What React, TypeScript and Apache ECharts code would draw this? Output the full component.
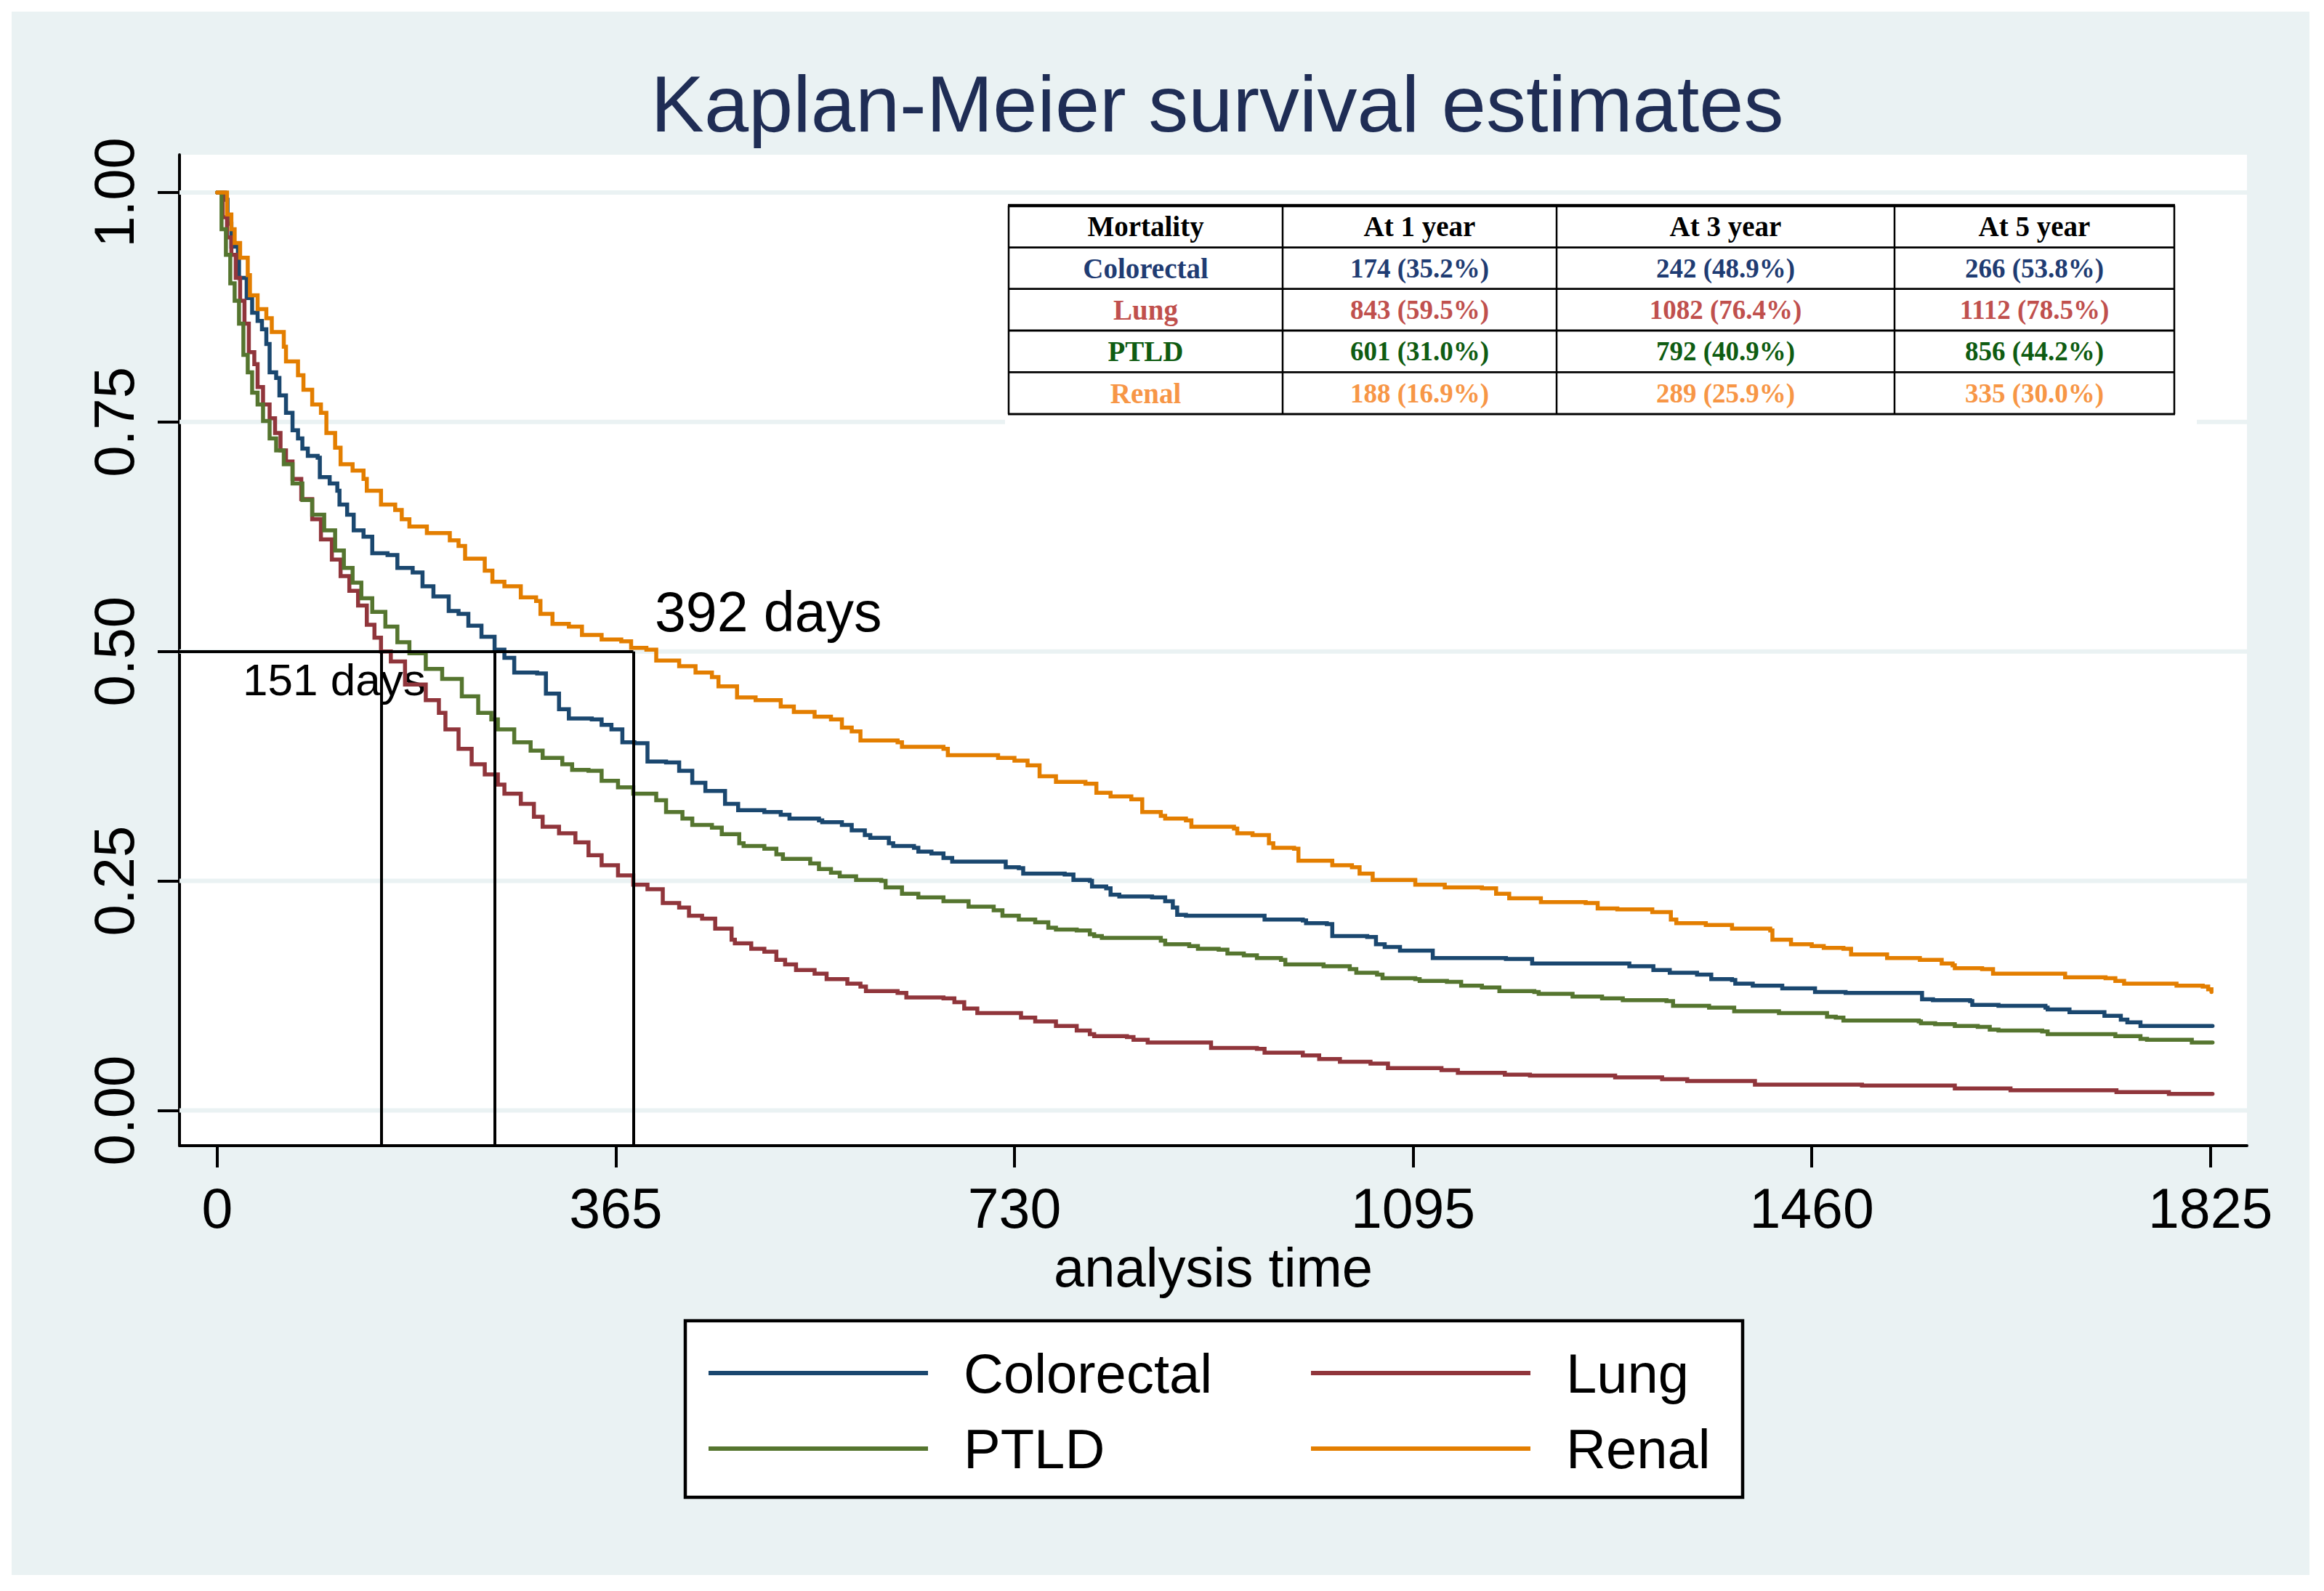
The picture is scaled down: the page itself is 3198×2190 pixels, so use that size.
import React, { useEffect, useRef } from 'react';
import * as echarts from 'echarts';

// ---------- data ----------
const seriesNames = ['Colorectal', 'Lung', 'PTLD', 'Renal'];
const seriesColors = ['#1A476F', '#90353B', '#55752F', '#E37E00'];

const colorectal: [number, number][] = [
  [0, 1], [3, 1], [7, 0.992], [9.5, 0.966], [13, 0.941], [19, 0.929], [20, 0.907], [27, 0.885], [32, 0.869], [37, 0.86],
  [41, 0.851], [45, 0.835], [48, 0.804], [54, 0.798], [57, 0.779], [63, 0.76], [69, 0.741], [74, 0.732], [78, 0.721], [83, 0.713],
  [92, 0.711], [94, 0.69], [103, 0.683], [110, 0.675], [112, 0.66], [119, 0.649], [125, 0.632], [134, 0.625], [142, 0.607], [156, 0.605],
  [165, 0.591], [179, 0.586], [188, 0.571], [198, 0.56], [212, 0.544], [221, 0.541], [230, 0.528], [242, 0.516], [254, 0.502], [263, 0.493],
  [272, 0.477], [293, 0.476], [301, 0.454], [313, 0.437], [322, 0.427], [343, 0.426], [352, 0.42], [361, 0.415], [371, 0.401], [382, 0.4],
  [394, 0.38], [411, 0.379], [423, 0.37], [435, 0.357], [447, 0.348], [465, 0.334], [477, 0.327], [501, 0.325], [516, 0.322], [524, 0.318],
  [551, 0.316], [554, 0.314], [572, 0.311], [581, 0.305], [593, 0.3], [598, 0.297], [615, 0.291], [619, 0.288], [638, 0.286], [642, 0.282],
  [654, 0.28], [665, 0.275], [673, 0.271], [722, 0.265], [734, 0.264], [738, 0.258], [776, 0.257], [784, 0.251], [799, 0.25], [801, 0.244],
  [814, 0.242], [818, 0.235], [826, 0.233], [856, 0.232], [868, 0.228], [875, 0.221], [879, 0.213], [887, 0.212], [959, 0.208], [994, 0.207],
  [997, 0.204], [1016, 0.203], [1021, 0.19], [1053, 0.189], [1061, 0.181], [1069, 0.178], [1083, 0.174], [1113, 0.166], [1180, 0.165], [1204, 0.16],
  [1293, 0.157], [1315, 0.153], [1330, 0.15], [1355, 0.148], [1368, 0.143], [1387, 0.142], [1390, 0.138], [1406, 0.136], [1433, 0.133], [1463, 0.129],
  [1491, 0.128], [1561, 0.121], [1571, 0.12], [1605, 0.119], [1607, 0.115], [1631, 0.114], [1674, 0.112], [1676, 0.11], [1696, 0.107], [1728, 0.103],
  [1743, 0.099], [1749, 0.096], [1761, 0.092], [1827, 0.092],
];

const lung: [number, number][] = [
  [0, 1], [5, 0.973], [9, 0.951], [13, 0.932], [17, 0.907], [21, 0.882], [25, 0.857], [29, 0.826], [34, 0.813], [37, 0.788],
  [42, 0.769], [48, 0.754], [53, 0.738], [58, 0.719], [63, 0.707], [69, 0.688], [77, 0.666], [87, 0.644], [95, 0.622], [105, 0.6],
  [113, 0.582], [121, 0.566], [129, 0.55], [137, 0.529], [144, 0.515], [150, 0.5], [159, 0.489], [172, 0.464], [191, 0.447], [203, 0.433],
  [209, 0.415], [221, 0.394], [233, 0.377], [245, 0.366], [257, 0.355], [263, 0.345], [278, 0.334], [290, 0.32], [298, 0.309], [313, 0.302],
  [328, 0.292], [340, 0.278], [352, 0.267], [367, 0.256], [381, 0.246], [394, 0.241], [408, 0.226], [423, 0.221], [432, 0.212], [444, 0.209],
  [456, 0.198], [471, 0.186], [474, 0.182], [489, 0.176], [501, 0.173], [512, 0.164], [520, 0.159], [530, 0.153], [547, 0.149], [558, 0.143],
  [577, 0.138], [589, 0.135], [594, 0.13], [623, 0.128], [631, 0.123], [665, 0.122], [675, 0.118], [684, 0.111], [696, 0.106], [736, 0.101],
  [749, 0.097], [768, 0.092], [787, 0.087], [799, 0.083], [803, 0.081], [833, 0.08], [839, 0.077], [852, 0.074], [910, 0.068], [952, 0.067],
  [959, 0.063], [994, 0.06], [1009, 0.056], [1028, 0.053], [1056, 0.051], [1072, 0.046], [1121, 0.044], [1136, 0.041], [1179, 0.039], [1202, 0.038],
  [1280, 0.036], [1323, 0.034], [1346, 0.032], [1408, 0.028], [1506, 0.027], [1591, 0.024], [1642, 0.022], [1739, 0.02], [1787, 0.018], [1827, 0.018],
];

const ptld: [number, number][] = [
  [0, 1], [4, 0.96], [8, 0.932], [12, 0.901], [16, 0.882], [20, 0.857], [24, 0.823], [28, 0.804], [32, 0.782], [37, 0.769],
  [42, 0.751], [48, 0.732], [54, 0.719], [61, 0.704], [69, 0.683], [78, 0.665], [87, 0.649], [98, 0.632], [108, 0.61], [116, 0.591],
  [124, 0.575], [132, 0.558], [142, 0.543], [154, 0.527], [165, 0.51], [176, 0.498], [191, 0.481], [206, 0.47], [224, 0.451], [239, 0.433],
  [251, 0.426], [257, 0.415], [272, 0.401], [287, 0.392], [298, 0.384], [316, 0.377], [325, 0.371], [340, 0.37], [352, 0.359], [367, 0.352],
  [381, 0.345], [402, 0.338], [411, 0.325], [426, 0.318], [435, 0.311], [453, 0.308], [462, 0.301], [478, 0.291], [482, 0.288], [501, 0.285],
  [512, 0.279], [518, 0.274], [543, 0.269], [551, 0.263], [562, 0.259], [570, 0.255], [585, 0.251], [608, 0.25], [612, 0.243], [627, 0.236],
  [642, 0.232], [665, 0.228], [688, 0.222], [711, 0.218], [719, 0.212], [734, 0.208], [749, 0.205], [761, 0.199], [768, 0.197], [787, 0.196],
  [799, 0.192], [803, 0.19], [810, 0.188], [864, 0.185], [868, 0.181], [890, 0.179], [898, 0.176], [917, 0.175], [925, 0.171], [940, 0.169],
  [952, 0.166], [974, 0.164], [978, 0.159], [1013, 0.157], [1037, 0.154], [1043, 0.15], [1062, 0.148], [1067, 0.144], [1097, 0.143], [1101, 0.141],
  [1126, 0.14], [1139, 0.136], [1158, 0.134], [1174, 0.13], [1206, 0.129], [1210, 0.127], [1241, 0.124], [1268, 0.122], [1287, 0.12], [1327, 0.119],
  [1333, 0.114], [1366, 0.112], [1389, 0.108], [1430, 0.106], [1474, 0.102], [1482, 0.101], [1489, 0.098], [1558, 0.097], [1560, 0.095], [1573, 0.094],
  [1591, 0.092], [1612, 0.091], [1623, 0.088], [1631, 0.087], [1671, 0.086], [1676, 0.083], [1738, 0.081], [1761, 0.078], [1767, 0.077], [1808, 0.074],
  [1827, 0.074],
];

const renal: [number, number][] = [
  [0, 1], [9, 0.976], [13, 0.96], [16, 0.945], [21, 0.929], [28, 0.91], [30, 0.888], [37, 0.873], [45, 0.863], [50, 0.848],
  [61, 0.832], [63, 0.816], [74, 0.801], [79, 0.785], [87, 0.769], [95, 0.76], [100, 0.738], [108, 0.722], [113, 0.704], [124, 0.697],
  [134, 0.688], [137, 0.675], [150, 0.66], [163, 0.654], [169, 0.644], [176, 0.636], [192, 0.629], [213, 0.621], [221, 0.615], [227, 0.601],
  [245, 0.588], [252, 0.576], [263, 0.571], [278, 0.559], [292, 0.555], [296, 0.541], [307, 0.53], [322, 0.527], [334, 0.518], [352, 0.513],
  [370, 0.511], [379, 0.504], [393, 0.502], [402, 0.49], [423, 0.484], [438, 0.477], [453, 0.472], [459, 0.462], [476, 0.45], [493, 0.447],
  [516, 0.44], [528, 0.434], [547, 0.429], [562, 0.426], [572, 0.417], [581, 0.413], [589, 0.403], [623, 0.401], [627, 0.396], [665, 0.394],
  [669, 0.387], [715, 0.384], [730, 0.381], [742, 0.376], [753, 0.364], [768, 0.358], [795, 0.356], [805, 0.346], [818, 0.342], [837, 0.339],
  [847, 0.325], [864, 0.321], [868, 0.318], [887, 0.316], [892, 0.309], [931, 0.307], [934, 0.302], [948, 0.3], [963, 0.291], [967, 0.286],
  [986, 0.285], [990, 0.272], [1021, 0.267], [1039, 0.265], [1046, 0.258], [1058, 0.251], [1097, 0.246], [1124, 0.243], [1158, 0.242], [1171, 0.236],
  [1183, 0.231], [1212, 0.227], [1253, 0.226], [1264, 0.22], [1282, 0.219], [1314, 0.216], [1331, 0.208], [1336, 0.204], [1363, 0.202], [1387, 0.198],
  [1422, 0.196], [1424, 0.186], [1441, 0.181], [1460, 0.179], [1471, 0.177], [1489, 0.176], [1496, 0.17], [1529, 0.166], [1559, 0.164], [1579, 0.16],
  [1589, 0.158], [1591, 0.155], [1616, 0.154], [1626, 0.149], [1692, 0.145], [1729, 0.144], [1738, 0.141], [1746, 0.138], [1794, 0.136], [1818, 0.135],
  [1823, 0.132], [1826, 0.129],
];

const xTicks = [0, 365, 730, 1095, 1460, 1825];
const yTicks = [0, 0.25, 0.5, 0.75, 1];
const medianLevel = 0.5;
const medianDays = [150, 254, 381];
const medianLabels = ['151 days', '392 days'];

const tableHeader = ['Mortality', 'At 1 year', 'At 3 year', 'At 5 year'];
const tableGroups = ['Colorectal', 'Lung', 'PTLD', 'Renal'];
const tableColors = ['#1F3C73', '#C0504D', '#0F5C12', '#F79646'];
const mortality1y = ['174 (35.2%)', '843 (59.5%)', '601 (31.0%)', '188 (16.9%)'];
const mortality3y = ['242 (48.9%)', '1082 (76.4%)', '792 (40.9%)', '289 (25.9%)'];
const mortality5y = ['266 (53.8%)', '1112 (78.5%)', '856 (44.2%)', '335 (30.0%)'];

// ---------- layout ----------
const W = 3198;
const H = 2190;
const FONT = '"Liberation Sans", Arial, Helvetica, sans-serif';
const SERIF = '"Liberation Serif", "Times New Roman", serif';
const BG = '#EAF2F3';
const X_MIN = -34.5;
const X_MAX = 1858.5;
const Y_MIN = -0.0384;
const Y_MAX = 1.0411;
const TABLE_COLS = [1388, 1765, 2142, 2607, 2992];
const TABLE_ROWS = [283, 340.7, 397.7, 455, 512.3, 570];

function buildTable(): any[] {
  const els: any[] = [];
  els.push({ type: 'rect', z: 10, shape: { x: 1383, y: 276, width: 1640, height: 316 }, style: { fill: '#fff' } });
  TABLE_ROWS.forEach((y, i) => {
    els.push({
      type: 'line', z: 11,
      shape: { x1: TABLE_COLS[0] - 1, y1: y, x2: TABLE_COLS[4] + 1, y2: y },
      style: { stroke: '#000', lineWidth: i === 0 ? 4.5 : 2.8 },
    });
  });
  TABLE_COLS.forEach((x) => {
    els.push({
      type: 'line', z: 11,
      shape: { x1: x, y1: TABLE_ROWS[0], x2: x, y2: TABLE_ROWS[5] },
      style: { stroke: '#000', lineWidth: 2.5 },
    });
  });
  const cellText = (text: string, col: number, row: number, color: string, size: number) => ({
    type: 'text', z: 12,
    x: (TABLE_COLS[col] + TABLE_COLS[col + 1]) / 2,
    y: (TABLE_ROWS[row] + TABLE_ROWS[row + 1]) / 2,
    style: {
      text, fill: color, fontSize: size, fontFamily: SERIF, fontWeight: 'bold',
      align: 'center', verticalAlign: 'middle', textAlign: 'center', textVerticalAlign: 'middle',
    },
  });
  tableHeader.forEach((h, c) => els.push(cellText(h, c, 0, '#000', 39)));
  tableGroups.forEach((g, r) => {
    const col = tableColors[r];
    els.push(cellText(g, 0, r + 1, col, 39));
    els.push(cellText(mortality1y[r], 1, r + 1, col, 37));
    els.push(cellText(mortality3y[r], 2, r + 1, col, 37));
    els.push(cellText(mortality5y[r], 3, r + 1, col, 37));
  });
  return els;
}

export default function App() {
  const ref = useRef<HTMLDivElement>(null);

  useEffect(() => {
    document.body.style.margin = '0';
    document.body.style.overflow = 'hidden';
    if (!ref.current) return;
    const chart = echarts.init(ref.current, undefined, { renderer: 'svg', width: W, height: H });

    const curveData = [colorectal, lung, ptld, renal];

    const gridSeries = yTicks.map((t) => ({
      type: 'line',
      data: [[X_MIN, t], [X_MAX, t]],
      symbol: 'none',
      silent: true,
      z: 1,
      lineStyle: { color: BG, width: 6 },
      emphasis: { disabled: true },
      tooltip: { show: false },
    }));

    const curveSeries = seriesNames.map((name, i) => ({
      name,
      type: 'line',
      data: curveData[i],
      step: 'end',
      symbol: 'none',
      showSymbol: false,
      z: 3,
      color: seriesColors[i],
      itemStyle: { color: seriesColors[i] },
      lineStyle: { color: seriesColors[i], width: 5.5, cap: 'round', join: 'miter' },
      emphasis: { disabled: true },
      ...(i === 1
        ? {
            markLine: {
              silent: true,
              symbol: ['none', 'none'],
              label: { show: false },
              emphasis: { disabled: true },
              lineStyle: { color: '#000', width: 4, type: 'solid' },
              data: [
                [{ coord: [X_MIN, medianLevel] }, { coord: [Math.max(...medianDays), medianLevel] }],
                ...medianDays.map((d) => [{ coord: [d, medianLevel] }, { coord: [d, Y_MIN] }]),
              ],
            },
          }
        : {}),
    }));

    const legendCommon = {
      orient: 'horizontal',
      padding: 0,
      itemWidth: 302,
      itemHeight: 6,
      icon: 'rect',
      selectedMode: false,
      textStyle: { fontSize: 76, fontFamily: FONT, color: '#000', lineHeight: 84, padding: [0, 0, 0, 44] },
    };

    const option: any = {
      animation: false,
      backgroundColor: 'transparent',
      grid: {
        left: 247, top: 213, width: 2845, height: 1364,
        show: true, backgroundColor: '#fff', borderWidth: 0,
      },
      xAxis: {
        type: 'value',
        min: X_MIN,
        max: X_MAX,
        name: 'analysis time',
        nameLocation: 'middle',
        nameGap: 149,
        nameTextStyle: { fontSize: 76, fontFamily: FONT, color: '#000', verticalAlign: 'middle' },
        axisLine: { show: true, onZero: false, lineStyle: { color: '#000', width: 4 } },
        axisTick: { show: true, length: 30, lineStyle: { color: '#000', width: 4 }, customValues: xTicks },
        axisLabel: {
          customValues: xTicks,
          fontSize: 77, fontFamily: FONT, color: '#000',
          margin: 86, verticalAlign: 'middle', align: 'center',
          formatter: (v: number) => String(Math.round(v)),
        },
        splitLine: { show: false },
      },
      yAxis: {
        type: 'value',
        min: Y_MIN,
        max: Y_MAX,
        axisLine: { show: true, onZero: false, lineStyle: { color: '#000', width: 4 } },
        axisTick: { show: true, length: 30, lineStyle: { color: '#000', width: 4 }, customValues: yTicks },
        axisLabel: {
          customValues: yTicks,
          rotate: 90,
          fontSize: 78, fontFamily: FONT, color: '#000',
          margin: 90, verticalAlign: 'middle', align: 'center',
          formatter: (v: number) => v.toFixed(2),
        },
        splitLine: { show: false },
      },
      legend: [
        { ...legendCommon, data: [seriesNames[0]], left: 975, top: 1890 - 42 },
        { ...legendCommon, data: [seriesNames[2]], left: 975, top: 1994 - 42 },
        { ...legendCommon, data: [seriesNames[1]], left: 1804, top: 1890 - 42 },
        { ...legendCommon, data: [seriesNames[3]], left: 1804, top: 1994 - 42 },
      ],
      graphic: [
        {
          type: 'text', z: 20, x: 1675, y: 142,
          style: {
            text: 'Kaplan-Meier survival estimates', fontSize: 110, fontFamily: FONT, fill: '#1F2D55',
            align: 'center', verticalAlign: 'middle', textAlign: 'center', textVerticalAlign: 'middle',
          },
        },
        {
          type: 'rect', z: 0, shape: { x: 943, y: 1818, width: 1455, height: 243 },
          style: { fill: '#fff', stroke: '#000', lineWidth: 4.5 },
        },
        {
          type: 'text', z: 2, x: 334, y: 935,
          style: {
            text: medianLabels[0], fontSize: 62, fontFamily: FONT, fill: '#000',
            align: 'left', verticalAlign: 'middle', textAlign: 'left', textVerticalAlign: 'middle',
          },
        },
        {
          type: 'text', z: 2, x: 901, y: 842,
          style: {
            text: medianLabels[1], fontSize: 77, fontFamily: FONT, fill: '#000',
            align: 'left', verticalAlign: 'middle', textAlign: 'left', textVerticalAlign: 'middle',
          },
        },
        ...buildTable(),
      ],
      series: [...gridSeries, ...curveSeries],
    };

    chart.setOption(option);
    return () => chart.dispose();
  }, []);

  return (
    <div style={{ position: 'relative', width: W, height: H, background: '#fff', overflow: 'hidden' }}>
      <div style={{ position: 'absolute', left: 16, top: 16, width: 3162, height: 2152, background: BG }} />
      <div ref={ref} style={{ position: 'absolute', left: 0, top: 0, width: W, height: H }} />
    </div>
  );
}
